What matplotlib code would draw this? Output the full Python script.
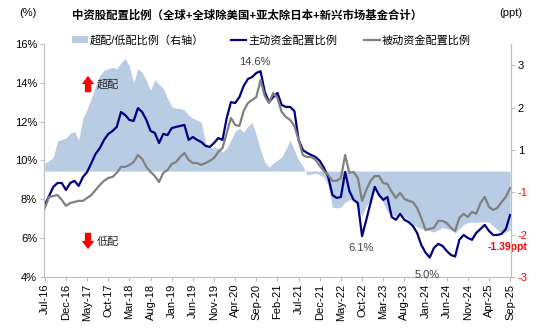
import numpy as np
import matplotlib
matplotlib.use("Agg")
import matplotlib.pyplot as plt

plt.rcParams['font.family'] = ['Liberation Sans', 'Noto Sans CJK SC', 'DejaVu Sans']
plt.rcParams['axes.unicode_minus'] = False

# 月度数据 Jul-16 ~ Sep-25
x_labels = ["Jul-16", "Dec-16", "May-17", "Oct-17", "Mar-18", "Aug-18", "Jan-19", "Jun-19",
            "Nov-19", "Apr-20", "Sep-20", "Feb-21", "Jul-21", "Dec-21", "May-22", "Oct-22",
            "Mar-23", "Aug-23", "Jan-24", "Jun-24", "Nov-24", "Apr-25", "Sep-25"]

# 主动资金配置比例 (%)
active = [7.71, 8.17, 8.64, 8.84, 8.84, 8.48, 8.84, 8.95, 8.69, 9.15,
          9.41, 9.87, 10.34, 10.64, 11.06, 11.37, 11.52, 11.73, 12.50, 12.34,
          12.09, 12.04, 12.70, 12.50, 12.09, 11.52, 11.42, 10.90, 11.37, 11.31,
          11.67, 11.73, 11.78, 11.83, 11.06, 11.21, 11.06, 10.95, 10.75, 10.70,
          10.90, 11.16, 11.06, 12.19, 13.01, 12.96, 13.27, 13.84, 14.20, 14.30,
          14.51, 14.60, 13.53, 13.01, 13.27, 13.48, 12.86, 12.76, 12.76, 12.55,
          11.06, 10.54, 10.39, 10.28, 10.18, 9.98, 9.62, 9.15, 8.22, 8.07,
          8.12, 9.41, 8.43, 7.97, 7.81, 6.10, 6.94, 7.81, 8.64, 8.22,
          7.97, 8.12, 7.09, 6.94, 7.25, 6.94, 6.83, 6.63, 6.27, 5.65,
          5.25, 5.00, 5.50, 5.70, 5.60, 5.34, 5.13, 5.05, 5.91, 6.16,
          6.01, 5.91, 6.27, 6.47, 6.68, 6.37, 6.16, 6.16, 6.22, 6.47,
          7.19]

# 被动资金配置比例 (%)
passive = [7.56, 8.12, 8.17, 8.22, 7.97, 7.66, 7.81, 7.86, 7.92, 7.92,
           8.07, 8.22, 8.48, 8.74, 8.95, 9.10, 9.15, 9.36, 9.67, 9.67,
           9.77, 9.92, 10.28, 10.08, 9.67, 9.41, 9.20, 8.89, 9.36, 9.51,
           9.82, 9.92, 10.18, 10.39, 10.03, 9.87, 9.87, 9.77, 9.87, 9.98,
           10.13, 10.44, 10.64, 11.42, 12.19, 11.83, 11.78, 12.55, 12.96, 13.12,
           13.27, 14.15, 13.32, 12.96, 13.48, 13.22, 12.50, 12.24, 12.09, 11.78,
           11.06, 10.28, 10.18, 10.18, 10.03, 9.72, 9.46, 9.25, 8.95, 8.95,
           9.10, 10.28, 9.36, 9.41, 9.10, 7.92, 8.48, 8.95, 9.20, 9.20,
           8.84, 8.79, 8.38, 8.07, 8.33, 8.02, 7.92, 7.86, 7.56, 7.04,
           6.42, 6.48, 6.53, 6.89, 6.89, 6.78, 6.53, 6.37, 7.04, 7.25,
           7.09, 7.35, 7.25, 7.81, 8.12, 7.61, 7.45, 7.56, 7.86, 8.12,
           8.58]

# 超配/低配比例 (ppt, 右轴)
overweight = [0.19, 0.24, 0.33, 0.71, 0.75, 0.78, 0.89, 0.94, 0.73, 1.25,
              1.46, 1.72, 2.02, 2.26, 2.38, 2.42, 2.45, 2.42, 2.56, 2.66,
              2.47, 2.09, 2.42, 2.33, 2.14, 1.91, 2.16, 2.05, 1.95, 1.72,
              1.53, 1.48, 1.48, 1.44, 1.32, 1.25, 1.20, 1.15, 0.66, 0.56,
              0.56, 0.54, 0.45, 0.54, 0.73, 0.94, 1.01, 0.92, 1.06, 1.15,
              0.85, 0.49, 0.21, 0.09, 0.19, 0.26, 0.33, 0.52, 0.73, 0.49,
              0.26, 0.12, -0.09, -0.07, -0.05, -0.09, -0.14, -0.35, -0.85, -0.87,
              -0.85, -0.73, -0.68, -0.68, -0.87, -1.06, -0.82, -0.66, -0.42, -0.54,
              -0.75, -0.96, -1.04, -1.06, -1.04, -1.08, -1.15, -1.25, -1.32, -1.36,
              -1.39, -1.41, -1.44, -1.39, -1.34, -1.36, -1.39, -1.46, -1.36, -1.27,
              -1.22, -1.20, -1.22, -1.20, -1.20, -1.20, -1.29, -1.39, -1.46, -1.44,
              -1.39]

months = np.arange(len(active))

fig = plt.figure(figsize=(5.5, 3.34), dpi=100)
ax = fig.add_axes([0.08, 0.171, 0.849, 0.697])
ax2 = ax.twinx()
ax.set_zorder(ax2.get_zorder() + 1)
ax.patch.set_visible(False)

fill = ax2.fill_between(months, 0, overweight, color='#B8CCE4', linewidth=0, label='超配/低配比例（右轴）')
l1, = ax.plot(months, active, color='#000080', lw=1.6, label='主动资金配置比例')
l2, = ax.plot(months, passive, color='#808080', lw=1.6, label='被动资金配置比例')

ax.set_xlim(-0.2, 110.2)
ax.set_ylim(4, 16)
ax2.set_ylim(-2.5, 3.0)

ax.set_yticks(np.arange(4, 17, 2))
ax.set_yticklabels([f"{v}%" for v in range(4, 17, 2)])
ax.set_xticks(np.arange(0, 111, 5))
ax.set_xticklabels(x_labels, rotation=90)

r_ticks = [-2.5, -1.5, -0.5, 0.5, 1.5, 2.5]
ax2.set_yticks(r_ticks)
ax2.set_yticklabels(["-3", "-2", "-1", "1", "2", "3"])
for t, v in zip(ax2.get_yticklabels(), r_ticks):
    t.set_color('red' if v < 0 else 'black')

for a in (ax, ax2):
    for s in a.spines.values():
        s.set_color('#BFBFBF')
    a.spines['top'].set_visible(False)
    a.tick_params(labelsize=8, color='#BFBFBF', length=3, width=0.8, pad=2)

# 标注
ax.annotate("14.6%", xy=(51, active[51]), xytext=(-4, 3), textcoords='offset points',
            ha='center', va='bottom', fontsize=8, color='#404040')
ax.annotate("6.1%", xy=(75, active[75]), xytext=(-1, -5), textcoords='offset points',
            ha='center', va='top', fontsize=8, color='#404040')
ax.annotate("5.0%", xy=(91, active[91]), xytext=(-2, -9), textcoords='offset points',
            ha='center', va='top', fontsize=8, color='#404040')
ax2.annotate("-1.39ppt", xy=(110, overweight[-1]), xytext=(-2, -9), textcoords='offset points',
             ha='center', va='top', fontsize=7.5, color='red', fontweight='bold')

# 超配 / 低配 箭头
arrow = dict(arrowstyle='simple,head_length=0.6,head_width=0.9,tail_width=0.45',
             color='#FF0000', lw=0, mutation_scale=10)
fig.patches  # keep figure-level
ax.annotate('', xy=(88, 334 - 73), xytext=(88, 334 - 95), xycoords='figure pixels',
            textcoords='figure pixels', arrowprops=arrow)
ax.annotate('', xy=(88, 334 - 252), xytext=(88, 334 - 230), xycoords='figure pixels',
            textcoords='figure pixels', arrowprops=arrow)
fig.text(97 / 550, 1 - 84 / 334, "超配", fontsize=8, style='italic', va='center', color='#262626')
fig.text(97 / 550, 1 - 242 / 334, "低配", fontsize=8, style='italic', va='center', color='#262626')

# 标题与单位
fig.text(72 / 550, 1 - 15 / 334, "中资股配置比例（全球+全球除美国+亚太除日本+新兴市场基金合计）",
         fontsize=8.2, fontweight='bold', va='center', ha='left')
fig.text(28 / 550, 1 - 13 / 334, "(%)", fontsize=8, ha='center', va='center')
fig.text(511 / 550, 1 - 13 / 334, "(ppt)", fontsize=8, ha='center', va='center')

fig.legend([fill, l1, l2], [fill.get_label(), l1.get_label(), l2.get_label()],
           loc='center left', bbox_to_anchor=(72 / 550, 1 - 40 / 334), ncol=3,
           frameon=False, fontsize=8, handlelength=1.4, handletextpad=0.2,
           columnspacing=2.4, borderpad=0, borderaxespad=0)

fig.savefig("out.png", dpi=100)
